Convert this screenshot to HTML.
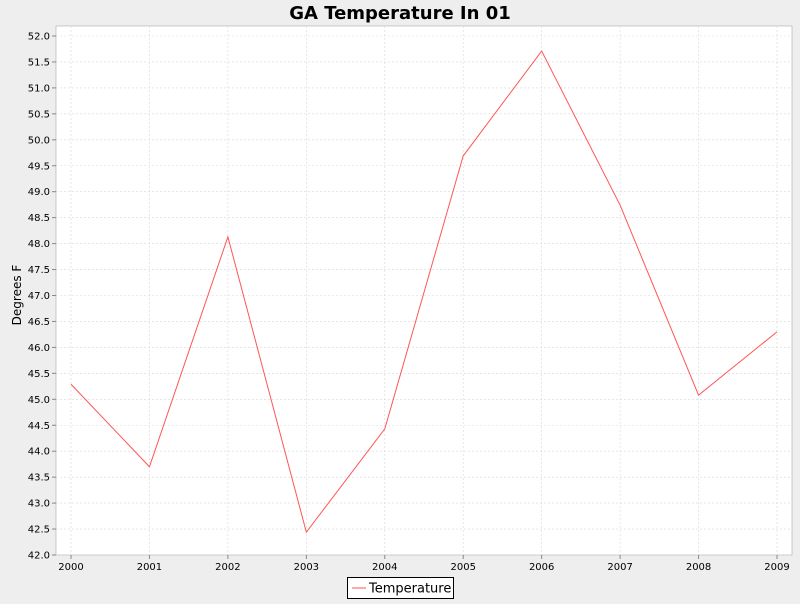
<!DOCTYPE html>
<html><head><meta charset="utf-8"><style>
body{margin:0;background:#eeeeee;font-family:"DejaVu Sans","Liberation Sans",sans-serif}
</style></head><body>
<svg width="800" height="600" xmlns="http://www.w3.org/2000/svg" font-family="DejaVu Sans, Liberation Sans, sans-serif">
<rect width="800" height="600" fill="#eeeeee"/>
<text x="400" y="19" text-anchor="middle" font-size="18" font-weight="bold" fill="#000">GA Temperature In 01</text>
<rect x="56" y="26" width="736" height="529" fill="#ffffff" stroke="#999" stroke-width="0.5"/>
<g id="grid"></g><g id="axes"></g><g id="series"></g>
<text transform="translate(21,295) rotate(-90)" text-anchor="middle" font-size="12" fill="#000">Degrees F</text>
<g>
<rect x="347.5" y="577.5" width="106" height="21" fill="#fff" stroke="#000" stroke-width="1"/>
<line x1="352" y1="588" x2="366" y2="588" stroke="#ff5555" stroke-width="1"/>
<text x="369" y="592.5" font-size="13" fill="#000">Temperature</text>
</g>
</svg>
<script>
const years=[2000,2001,2002,2003,2004,2005,2006,2007,2008,2009];
const temps=[45.29,43.70,48.13,42.44,44.43,49.69,51.71,48.74,45.08,46.30];
const yTicks=[42.0,42.5,43.0,43.5,44.0,44.5,45.0,45.5,46.0,46.5,47.0,47.5,48.0,48.5,49.0,49.5,50.0,50.5,51.0,51.5,52.0];
const NS="http://www.w3.org/2000/svg";
function yS(v){return 555-(v-42)*51.9;}
function xS(i){return 71+i*(777-71)/(years.length-1);}
function mk(t,a,p){const e=document.createElementNS(NS,t);for(const k in a)e.setAttribute(k,a[k]);p.appendChild(e);return e;}
const grid=document.getElementById('grid'),axes=document.getElementById('axes'),ser=document.getElementById('series');
yTicks.forEach(v=>{const y=yS(v);
 const g=mk('line',{x1:56,x2:792,y1:y,y2:y,stroke:'#d8d8d8','stroke-dasharray':'2,2','stroke-width':0.6},grid);
 
 
 mk('line',{x1:52,x2:56,y1:y,y2:y,stroke:'#888'},axes);
 const t=mk('text',{x:50,y:y+3.5,'text-anchor':'end','font-size':10,fill:'#000'},axes);t.textContent=v.toFixed(1);
 
 
});
years.forEach((yr,i)=>{const x=xS(i);
 const g=mk('line',{x1:x,x2:x,y1:26,y2:555,stroke:'#d8d8d8','stroke-dasharray':'2,2','stroke-width':0.6},grid);
 
 
 mk('line',{x1:x,x2:x,y1:555,y2:559,stroke:'#888'},axes);
 const t=mk('text',{x:x,y:570,'text-anchor':'middle','font-size':10,fill:'#000'},axes);t.textContent=yr;
 
 
});
const pl=mk('polyline',{points:temps.map((v,i)=>xS(i)+','+yS(v)).join(' '),fill:'none',stroke:'#ff5555','stroke-width':1},ser);


</script>
</body></html>
